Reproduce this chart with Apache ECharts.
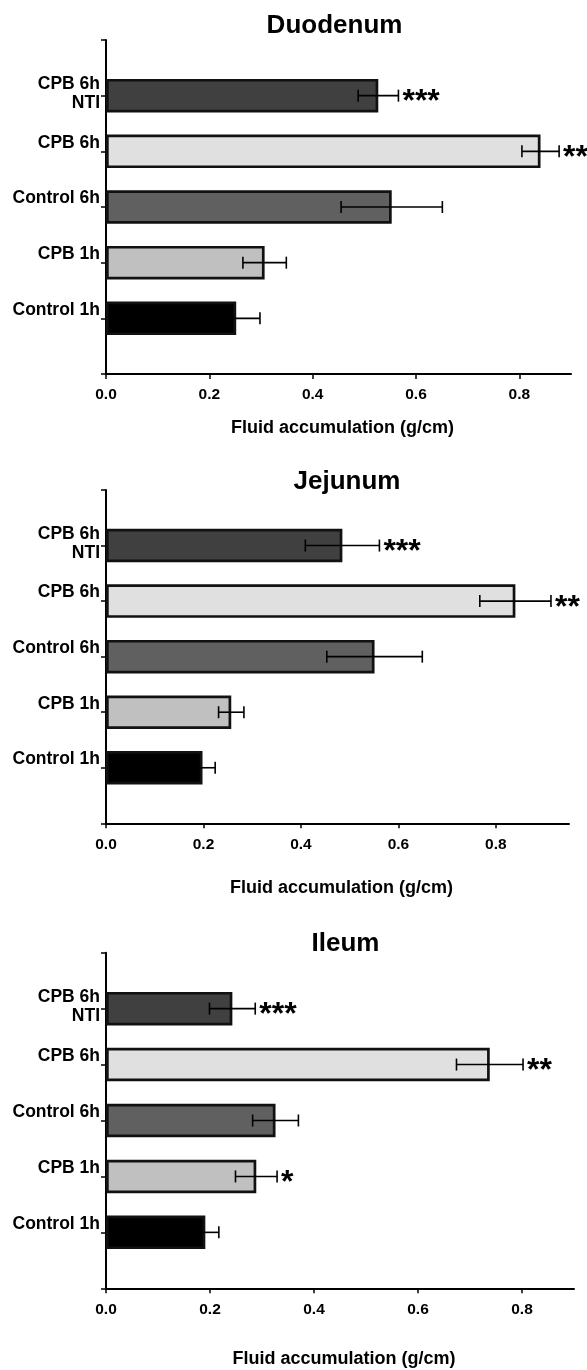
<!DOCTYPE html>
<html>
<head>
<meta charset="utf-8">
<script src="https://cdn.jsdelivr.net/npm/echarts@6/dist/echarts.min.js"></script>
<style>
html,body{margin:0;padding:0;background:#fff;}
#c{width:587px;height:1370px;}
</style>
</head>
<body>
<div id="c"></div>
<script>
// ---- data ----
const categories = ['Control 1h', 'CPB 1h', 'Control 6h', 'CPB 6h', 'CPB 6h\nNTI'];
const barColors = ['#000000', '#c0c0c0', '#606060', '#e0e0e0', '#404040'];
const panelTitles = ['Duodenum', 'Jejunum', 'Ileum'];
const duodenumMean = [0.252, 0.307, 0.553, 0.841, 0.527];
const duodenumErr  = [0.046, 0.042, 0.098, 0.036, 0.039];
const duodenumSig  = ['', '', '', '**', '***'];
const jejunumMean  = [0.198, 0.257, 0.551, 0.840, 0.485];
const jejunumErr   = [0.026, 0.026, 0.098, 0.073, 0.076];
const jejunumSig   = ['', '', '', '**', '***'];
const ileumMean    = [0.191, 0.289, 0.326, 0.738, 0.243];
const ileumErr     = [0.026, 0.040, 0.044, 0.064, 0.044];
const ileumSig     = ['', '*', '', '**', '***'];
const xTickValues  = [0, 0.2, 0.4, 0.6, 0.8];
const xMaxes       = [0.9, 0.95, 0.9];
const axisName     = 'Fluid accumulation (g/cm)';

const means = [duodenumMean, jejunumMean, ileumMean];
const errs = [duodenumErr, jejunumErr, ileumErr];
const sigs = [duodenumSig, jejunumSig, ileumSig];

// ---- layout ----
const FONT = '"Liberation Sans", Arial, Helvetica, sans-serif';
const grids = [
  {left: 106, right: 16, top: 40, height: 334},
  {left: 106, right: 18, top: 490, height: 333.3},
  {left: 106, right: 13, top: 952.7, height: 335.6}
];
const titlePos = [{x: 334.5, y: 13}, {x: 347, y: 469}, {x: 345.5, y: 931}];
const nameGaps = [45, 56, 62];

const yData = [''].concat(categories.map(c => {
  if (c.indexOf('\n') >= 0) return c;
  return {value: c, textStyle: {verticalAlign: 'bottom', lineHeight: 17}};
})).concat(['']);

function yLabelFormatter(v) {
  if (v.indexOf('\n') >= 0) {
    return v.split('\n').map(s => '{a|' + s + '}').join('\n') + '\n{s| }';
  }
  return v;
}

const option = {
  backgroundColor: '#fff',
  animation: false,
  title: panelTitles.map((t, i) => ({
    text: t, left: titlePos[i].x, top: titlePos[i].y, textAlign: 'center', padding: 0,
    textStyle: {fontFamily: FONT, fontWeight: 'bold', fontSize: 26, color: '#000'}
  })),
  grid: grids.map(g => Object.assign({outerBoundsMode: 'none', containLabel: false}, g)),
  xAxis: grids.map((g, i) => ({
    type: 'value', gridIndex: i, min: 0, max: xMaxes[i], interval: 0.2,
    name: axisName, nameLocation: 'middle', nameGap: nameGaps[i],
    nameTextStyle: {fontFamily: FONT, fontWeight: 'bold', fontSize: 18, color: '#000', padding: [0, 0, 0, 8]},
    splitLine: {show: false},
    axisLine: {show: true, onZero: false, lineStyle: {color: '#000', width: 2}},
    axisTick: {show: true, length: 5, lineStyle: {color: '#000', width: 1.5}, customValues: xTickValues},
    axisLabel: {fontFamily: FONT, fontWeight: 'bold', fontSize: 15.5, color: '#000', margin: 13,
      customValues: xTickValues, formatter: v => v.toFixed(1)}
  })),
  yAxis: grids.map((g, i) => ({
    type: 'category', gridIndex: i, data: yData, boundaryGap: false,
    axisLine: {show: true, lineStyle: {color: '#000', width: 2}},
    axisTick: {show: true, length: 5, lineStyle: {color: '#000', width: 1.5}},
    axisLabel: {fontFamily: FONT, fontWeight: 'bold', fontSize: 17.5, color: '#000', margin: 6, interval: 0,
      formatter: yLabelFormatter,
      rich: {
        a: {fontFamily: FONT, fontWeight: 'bold', fontSize: 17.5, color: '#000', lineHeight: 19, align: 'right'},
        s: {fontSize: 2, lineHeight: 4}
      }},
    splitLine: {show: false}
  })),
  series: []
};

means.forEach((m, i) => {
  option.series.push({
    type: 'bar', xAxisIndex: i, yAxisIndex: i, barWidth: 33.5, z: 2,
    data: ['-'].concat(m.map((v, k) => ({
      value: v,
      itemStyle: {color: barColors[k], borderColor: '#111', borderWidth: 2.7}
    }))).concat(['-'])
  });
  const sig = sigs[i];
  option.series.push({
    type: 'custom', xAxisIndex: i, yAxisIndex: i, z: 5, clip: false,
    data: m.map((v, k) => [v, k + 1, errs[i][k]]),
    renderItem: function (params, api) {
      const mean = api.value(0), cat = api.value(1), err = api.value(2);
      const p0 = api.coord([mean - err, cat]);
      const p1 = api.coord([mean + err, cat]);
      const y = p0[1];
      const st = {stroke: '#000', lineWidth: 1.6};
      const children = [
        {type: 'line', shape: {x1: p0[0], y1: y, x2: p1[0], y2: y}, style: st},
        {type: 'line', shape: {x1: p0[0], y1: y - 6, x2: p0[0], y2: y + 6}, style: st},
        {type: 'line', shape: {x1: p1[0], y1: y - 6, x2: p1[0], y2: y + 6}, style: st}
      ];
      const s = sig[params.dataIndex];
      if (s) {
        children.push({
          type: 'text',
          style: {text: s, x: p1[0] + 4, y: y + 7, fill: '#000',
            font: 'bold 32px ' + FONT, textAlign: 'left', textVerticalAlign: 'middle'}
        });
      }
      return {type: 'group', children: children};
    }
  });
});

const chart = echarts.init(document.getElementById('c'), null, {renderer: 'canvas', width: 587, height: 1370});
chart.setOption(option);
</script>
</body>
</html>
